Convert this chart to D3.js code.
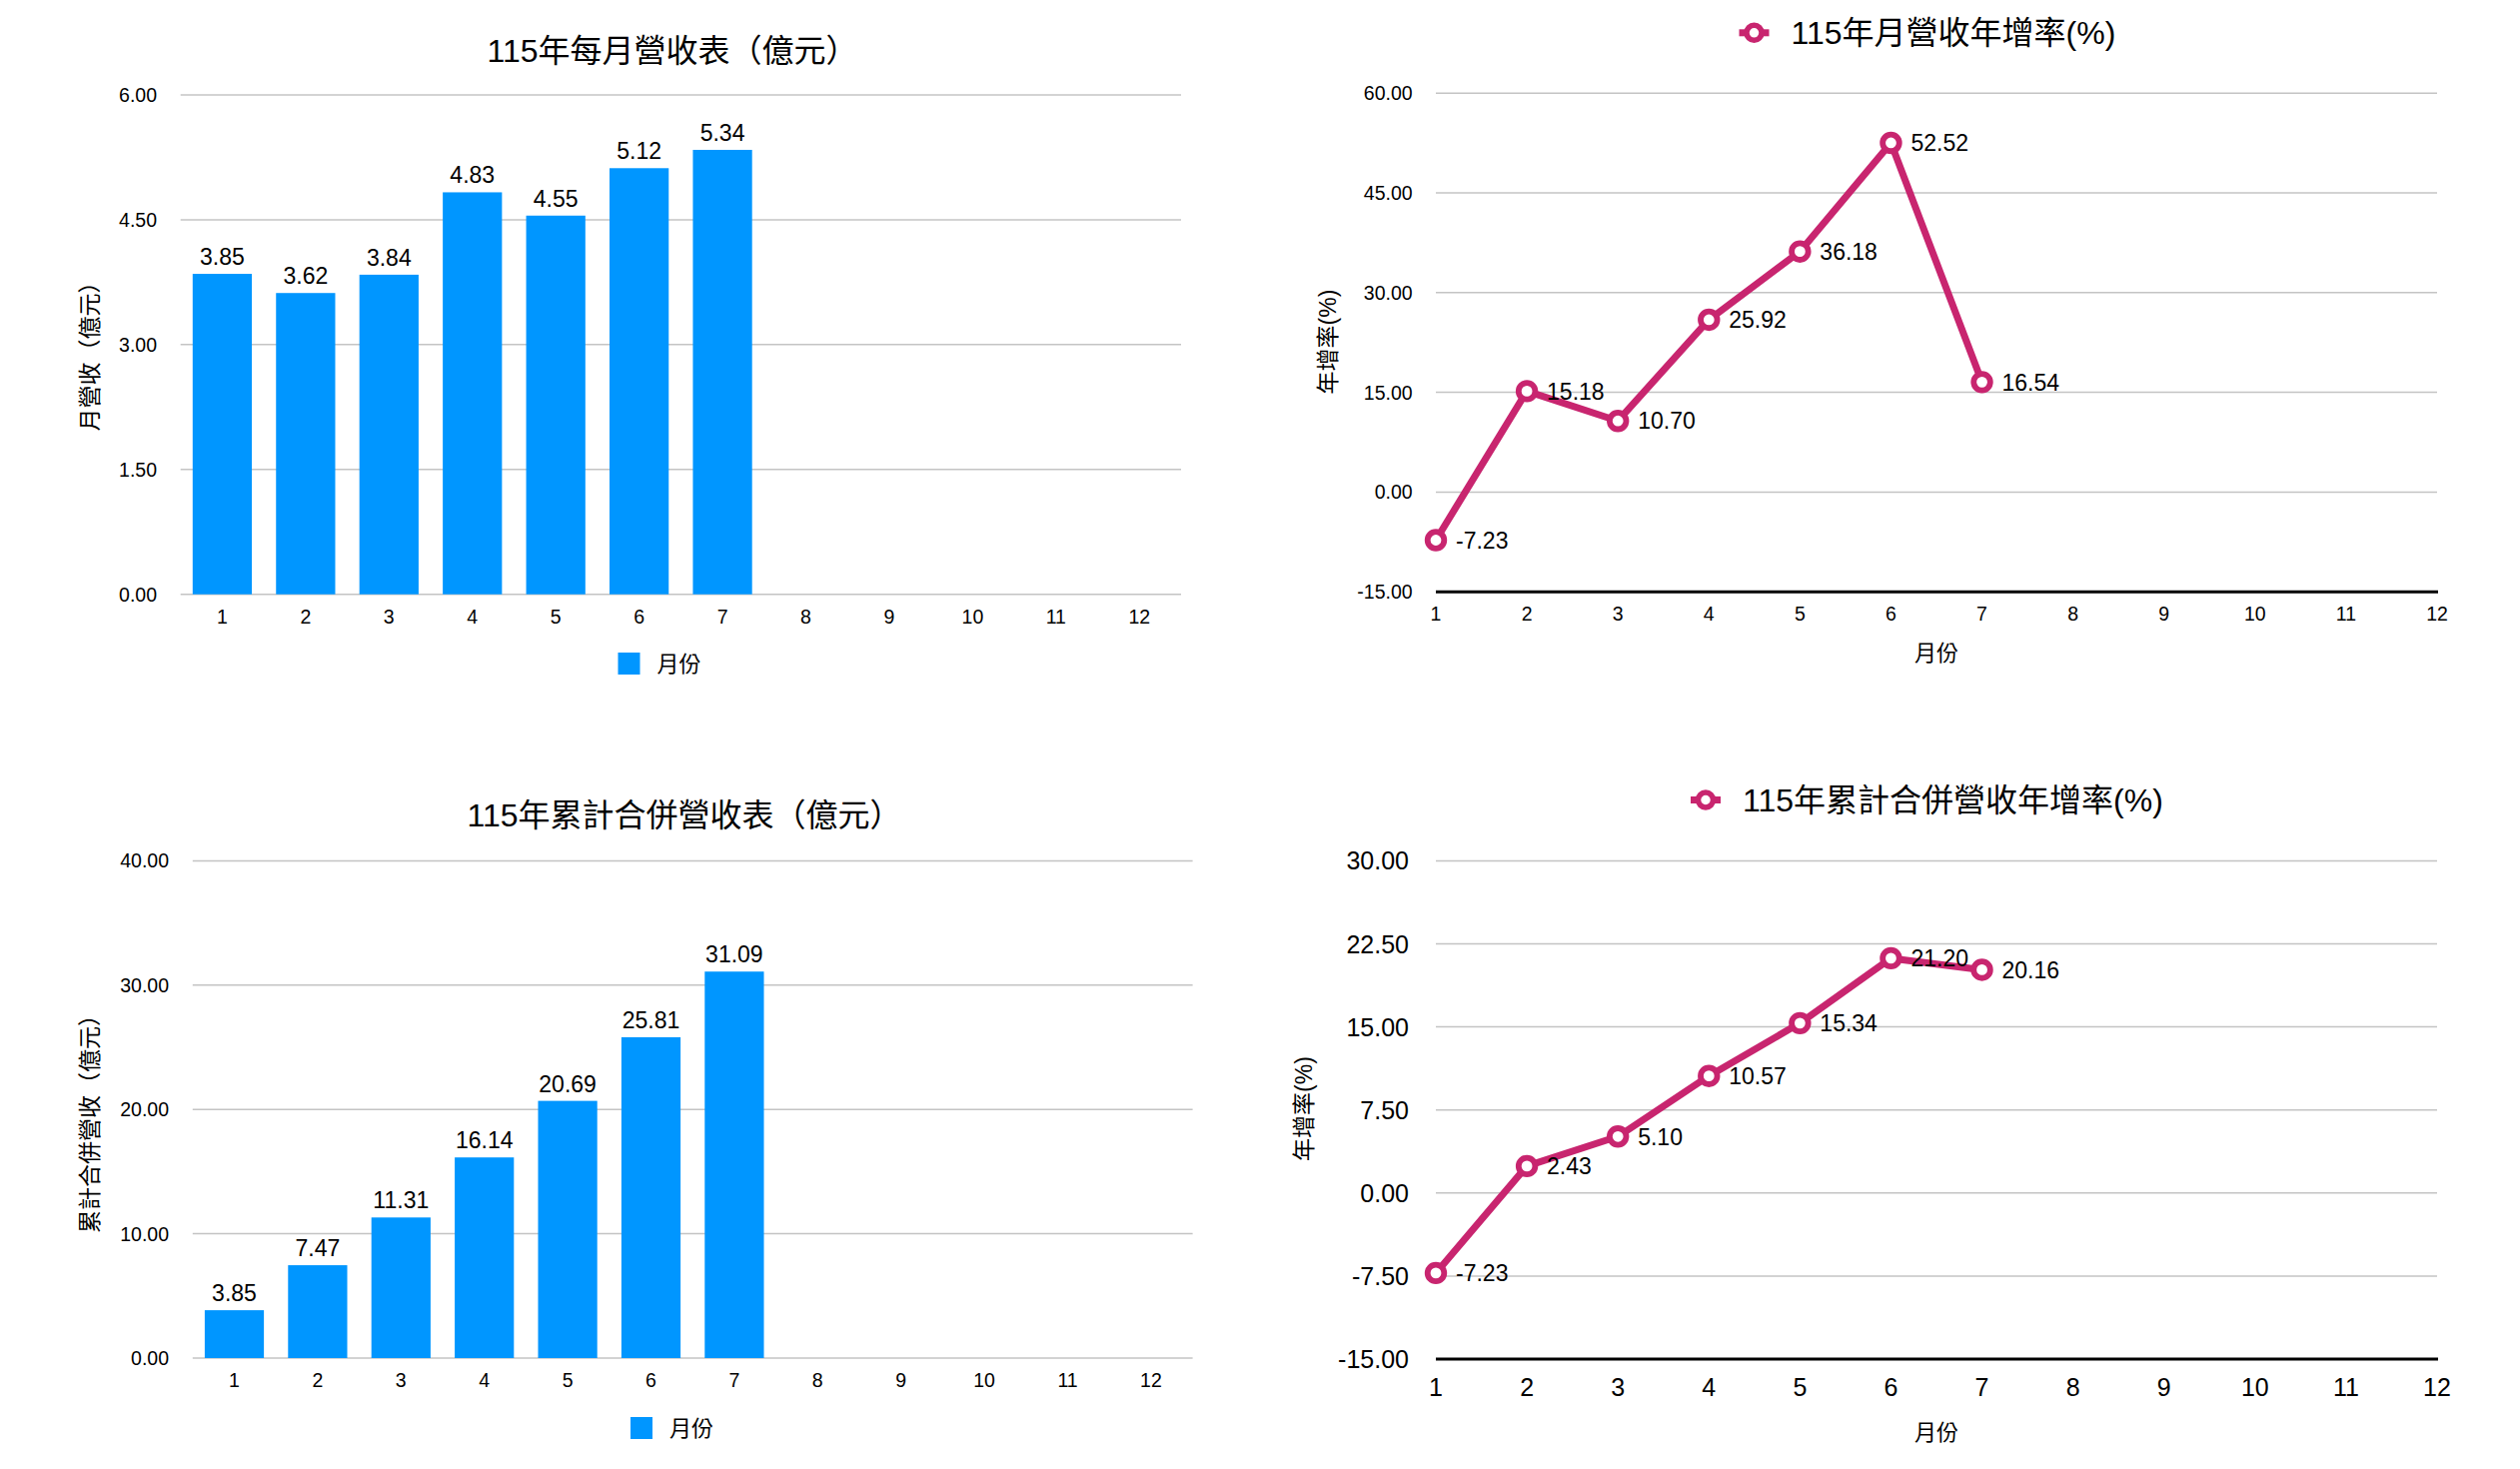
<!DOCTYPE html>
<html><head><meta charset="utf-8">
<script src="https://cdn.jsdelivr.net/npm/d3@7/dist/d3.min.js"></script>
<style>
html,body{margin:0;padding:0;background:#fff;}
svg{display:block;}
text{font-family:"Liberation Sans","Noto Sans CJK TC",sans-serif;fill:#000;}
</style></head>
<body>
<svg id="c" width="2522" height="1470"></svg>
<script>
// ---- data ----
const months = ["1","2","3","4","5","6","7","8","9","10","11","12"];
const monthlyRevenue = [3.85, 3.62, 3.84, 4.83, 4.55, 5.12, 5.34];
const cumulativeRevenue = [3.85, 7.47, 11.31, 16.14, 20.69, 25.81, 31.09];
const monthlyYoY = [-7.23, 15.18, 10.70, 25.92, 36.18, 52.52, 16.54];
const cumulativeYoY = [-7.23, 2.43, 5.10, 10.57, 15.34, 21.20, 20.16];
const ticksMonthly = [0, 1.5, 3, 4.5, 6];
const ticksCumulative = [0, 10, 20, 30, 40];
const ticksMonthlyYoY = [-15, 0, 15, 30, 45, 60];
const ticksCumulativeYoY = [-15, -7.5, 0, 7.5, 15, 22.5, 30];

const BLUE = "#0096FF";
const MAG = "#C8256F";
const GRID = "#c4c4c4";
const fmt = d3.formatLocale({decimal:".", thousands:",", grouping:[3], currency:["",""], minus:"-"}).format(".2f");

const svg = d3.select("#c");
svg.append("rect").attr("width",2522).attr("height",1470).attr("fill","#fff");

function barChart(o){
  const g = svg.append("g");
  const x = d3.scaleBand().domain(months).range([o.x0,o.x1]).paddingInner(0.29).paddingOuter(0.145);
  const y = d3.scaleLinear().domain([o.ticks[0], o.ticks[o.ticks.length-1]]).range([o.y0,o.y1]);
  g.selectAll(".grid").data(o.ticks).enter().append("line")
    .attr("x1",o.x0).attr("x2",o.x1).attr("y1",d=>y(d)).attr("y2",d=>y(d))
    .attr("stroke",GRID).attr("stroke-width",1.5);
  g.selectAll(".yt").data(o.ticks).enter().append("text")
    .attr("x",o.yLabX).attr("y",d=>y(d)).attr("dy","0.36em")
    .attr("text-anchor","end").style("font-size",o.tickFs+"px")
    .text(d=>fmt(d));
  g.selectAll(".xt").data(months).enter().append("text")
    .attr("x",d=>x(d)+x.bandwidth()/2).attr("y",o.xLabY).attr("dy","0.36em")
    .attr("text-anchor","middle").style("font-size",o.tickFs+"px").text(d=>d);
  const vals = o.values.map((v,i)=>({m:months[i],v}));
  g.selectAll(".bar").data(vals).enter().append("rect")
    .attr("x",d=>x(d.m)).attr("width",x.bandwidth())
    .attr("y",d=>y(d.v)).attr("height",d=>y(0)-y(d.v)).attr("fill",BLUE);
  g.selectAll(".lab").data(vals).enter().append("text")
    .attr("x",d=>x(d.m)+x.bandwidth()/2).attr("y",d=>y(d.v)-9)
    .attr("text-anchor","middle").style("font-size","23px")
    .text(d=>fmt(d.v));
  g.append("text").attr("x",o.titleX).attr("y",o.titleY).attr("dy","0.36em")
    .attr("text-anchor","middle").style("font-size","32px").text(o.title);
  g.append("text").attr("transform",`translate(${o.yTitleX},${o.yTitleY}) rotate(-90)`)
    .attr("dy","0.36em").attr("text-anchor","middle").style("font-size","23px").text(o.yTitle);
  g.append("rect").attr("x",o.legX).attr("y",o.legY).attr("width",22).attr("height",22).attr("fill",BLUE);
  g.append("text").attr("x",o.legX+39).attr("y",o.legY+11).attr("dy","0.36em")
    .style("font-size","22px").text("月份");
}

function lineChart(o){
  const g = svg.append("g");
  const x = d3.scalePoint().domain(months).range([o.x0,o.x1]);
  const y = d3.scaleLinear().domain([o.ticks[0], o.ticks[o.ticks.length-1]]).range([o.y0,o.y1]);
  g.selectAll(".grid").data(o.ticks.slice(1)).enter().append("line")
    .attr("x1",o.x0).attr("x2",o.x1).attr("y1",d=>y(d)).attr("y2",d=>y(d))
    .attr("stroke",GRID).attr("stroke-width",1.5);
  g.append("line").attr("x1",o.x0).attr("x2",o.x1+1).attr("y1",y(o.ticks[0])).attr("y2",y(o.ticks[0]))
    .attr("stroke","#000").attr("stroke-width",3);
  g.selectAll(".yt").data(o.ticks).enter().append("text")
    .attr("x",o.yLabX).attr("y",d=>y(d)).attr("dy","0.36em")
    .attr("text-anchor","end").style("font-size",o.tickFs+"px")
    .text(d=>fmt(d));
  g.selectAll(".xt").data(months).enter().append("text")
    .attr("x",d=>x(d)).attr("y",o.xLabY).attr("dy","0.36em")
    .attr("text-anchor","middle").style("font-size",o.tickFs+"px").text(d=>d);
  const vals = o.values.map((v,i)=>({m:months[i],v}));
  g.append("path").datum(vals)
    .attr("d",d3.line().x(d=>x(d.m)).y(d=>y(d.v)))
    .attr("fill","none").attr("stroke",MAG).attr("stroke-width",7).attr("stroke-linejoin","round");
  g.selectAll(".pt").data(vals).enter().append("circle")
    .attr("cx",d=>x(d.m)).attr("cy",d=>y(d.v)).attr("r",8.3)
    .attr("fill","#fff").attr("stroke",MAG).attr("stroke-width",5.8);
  g.selectAll(".lab").data(vals).enter().append("text")
    .attr("x",d=>x(d.m)+20).attr("y",d=>y(d.v)).attr("dy","0.36em")
    .style("font-size","23px").text(d=>fmt(d.v));
  g.append("line").attr("x1",o.legX-15).attr("x2",o.legX+15).attr("y1",o.legY).attr("y2",o.legY)
    .attr("stroke",MAG).attr("stroke-width",7);
  g.append("circle").attr("cx",o.legX).attr("cy",o.legY).attr("r",7.5)
    .attr("fill","#fff").attr("stroke",MAG).attr("stroke-width",5.5);
  g.append("text").attr("x",o.legX+37).attr("y",o.legY).attr("dy","0.36em")
    .style("font-size","32px").text(o.title);
  g.append("text").attr("x",o.xTitleX).attr("y",o.xTitleY).attr("dy","0.36em")
    .attr("text-anchor","middle").style("font-size","22px").text("月份");
  g.append("text").attr("transform",`translate(${o.yTitleX},${o.yTitleY}) rotate(-90)`)
    .attr("dy","0.36em").attr("text-anchor","middle").style("font-size","23px").text("年增率(%)");
}

barChart({values:monthlyRevenue, ticks:ticksMonthly, x0:180.7, x1:1182, y0:594.7, y1:95,
  yLabX:157, xLabY:617, tickFs:19.5, title:"115年每月營收表（億元）", titleX:673, titleY:50,
  yTitle:"月營收（億元）", yTitleX:90, yTitleY:351, legX:618.5, legY:653});
barChart({values:cumulativeRevenue, ticks:ticksCumulative, x0:192.8, x1:1193.6, y0:1359, y1:861.4,
  yLabX:169, xLabY:1381, tickFs:19.5, title:"115年累計合併營收表（億元）", titleX:685, titleY:815.5,
  yTitle:"累計合併營收（億元）", yTitleX:90, yTitleY:1119, legX:631, legY:1418});
lineChart({values:monthlyYoY, ticks:ticksMonthlyYoY, x0:1437, x1:2439, y0:592.2, y1:93.2,
  yLabX:1413.6, xLabY:614, tickFs:19.5, title:"115年月營收年增率(%)", legX:1755.5, legY:32.8,
  xTitleX:1938, xTitleY:653, yTitleX:1329, yTitleY:342});
lineChart({values:cumulativeYoY, ticks:ticksCumulativeYoY, x0:1437, x1:2439, y0:1360, y1:861.4,
  yLabX:1410, xLabY:1388, tickFs:25, title:"115年累計合併營收年增率(%)", legX:1707, legY:800.5,
  xTitleX:1938, xTitleY:1433.5, yTitleX:1305, yTitleY:1109.5});
</script>
</body></html>
